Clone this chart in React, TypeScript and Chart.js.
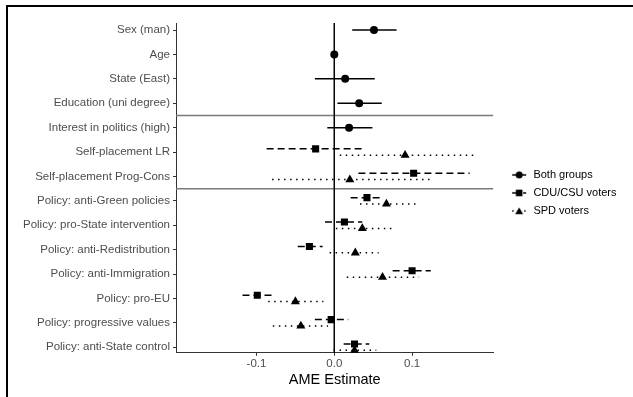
import React, { useEffect, useRef } from 'react';
import { Chart, registerables } from 'chart.js';

Chart.register(...registerables);

// ---------- data ----------
const categories = [
  'Sex (man)',
  'Age',
  'State (East)',
  'Education (uni degree)',
  'Interest in politics (high)',
  'Self-placement LR',
  'Self-placement Prog-Cons',
  'Policy: anti-Green policies',
  'Policy: pro-State intervention',
  'Policy: anti-Redistribution',
  'Policy: anti-Immigration',
  'Policy: pro-EU',
  'Policy: progressive values',
  'Policy: anti-State control',
];

const groupNames = ['Both groups', 'CDU/CSU voters', 'SPD voters'];

// Both groups (rows 0-4)
const bothRows = [0, 1, 2, 3, 4];
const bothEst = [0.051, 0.0, 0.014, 0.032, 0.019];
const bothLo = [0.023, -0.001, -0.025, 0.004, -0.009];
const bothHi = [0.08, 0.001, 0.052, 0.061, 0.049];

// Party groups (rows 5-13)
const partyRows = [5, 6, 7, 8, 9, 10, 11, 12, 13];
const cduEst = [-0.024, 0.102, 0.042, 0.013, -0.032, 0.1, -0.099, -0.004, 0.026];
const cduLo = [-0.087, 0.031, 0.021, -0.012, -0.047, 0.075, -0.118, -0.025, 0.012];
const cduHi = [0.039, 0.174, 0.063, 0.036, -0.015, 0.124, -0.079, 0.018, 0.045];
const spdEst = [0.091, 0.02, 0.067, 0.036, 0.027, 0.062, -0.05, -0.043, 0.026];
const spdLo = [0.007, -0.08, 0.033, 0.002, -0.006, 0.016, -0.085, -0.079, -0.001];
const spdHi = [0.179, 0.123, 0.105, 0.074, 0.057, 0.109, -0.014, -0.008, 0.054];

const xTicks = [-0.1, 0.0, 0.1];
const xRange = [-0.2035, 0.2045];
const yRange = [-0.29, 13.23];
const zeroLine = [0];
const separators = [3.5, 6.5];
const dodge = [0, -0.13, 0.13];

// ---------- styles ----------
const FONT = "'Liberation Sans', Arial, sans-serif";
const styles = [
  { point: 'circle', radius: 4, dash: [] as number[] },
  { point: 'rect', radius: 5, dash: [7, 4] },
  { point: 'triangle', radius: 5.2, dash: [1.5, 4.5] },
];

function makeLegendIcon(kind: string, dash: number[]): HTMLCanvasElement {
  const c = document.createElement('canvas');
  c.width = 40;
  c.height = 14;
  const ctx = c.getContext('2d')!;
  ctx.strokeStyle = '#000';
  ctx.fillStyle = '#000';
  ctx.lineWidth = 1.5;
  ctx.setLineDash(dash);
  ctx.beginPath();
  ctx.moveTo(18, 7);
  ctx.lineTo(32, 7);
  ctx.stroke();
  ctx.setLineDash([]);
  const cx = 25;
  const cy = 7;
  ctx.beginPath();
  if (kind === 'circle') {
    ctx.arc(cx, cy, 3.5, 0, Math.PI * 2);
  } else if (kind === 'rect') {
    ctx.rect(cx - 3.3, cy - 3.3, 6.6, 6.6);
  } else {
    const r = 4.6;
    ctx.moveTo(cx, cy - r + 1);
    ctx.lineTo(cx + r * 0.866, cy + r * 0.5 + 1);
    ctx.lineTo(cx - r * 0.866, cy + r * 0.5 + 1);
    ctx.closePath();
  }
  ctx.fill();
  return c;
}

export default function App() {
  const ref = useRef<HTMLCanvasElement | null>(null);

  useEffect(() => {
    if (!ref.current) return;

    const groups = [
      { rows: bothRows, est: bothEst, lo: bothLo, hi: bothHi },
      { rows: partyRows, est: cduEst, lo: cduLo, hi: cduHi },
      { rows: partyRows, est: spdEst, lo: spdLo, hi: spdHi },
    ];

    const pointSets: any[] = [];
    const barSets: any[] = [];
    groups.forEach((g, gi) => {
      const st = styles[gi];
      pointSets.push({
        label: groupNames[gi],
        data: g.rows.map((r, i) => ({ x: g.est[i], y: r + dodge[gi] })),
        pointStyle: st.point,
        pointRadius: st.radius,
        backgroundColor: '#000',
        borderColor: '#000',
        borderWidth: 0,
        showLine: false,
      });
      g.rows.forEach((r, i) => {
        barSets.push({
          label: groupNames[gi] + ' CI',
          data: [
            { x: g.lo[i], y: r + dodge[gi] },
            { x: g.hi[i], y: r + dodge[gi] },
          ],
          showLine: true,
          borderColor: '#000',
          borderWidth: 1.5,
          borderDash: st.dash,
          borderCapStyle: 'butt',
          pointRadius: 0,
        });
      });
    });

    const refSets: any[] = [];
    zeroLine.forEach((z) => {
      refSets.push({
        label: 'zero',
        data: [
          { x: z, y: yRange[0] },
          { x: z, y: yRange[1] },
        ],
        showLine: true,
        borderColor: '#000',
        borderWidth: 1,
        pointRadius: 0,
      });
    });
    separators.forEach((s) => {
      refSets.push({
        label: 'sep',
        data: [
          { x: xRange[0], y: s },
          { x: xRange[1], y: s },
        ],
        showLine: true,
        borderColor: '#7a7a7a',
        borderWidth: 1.5,
        pointRadius: 0,
      });
    });

    const icons = styles.map((s) => makeLegendIcon(s.point, s.dash));

    const chart = new Chart(ref.current, {
      type: 'scatter',
      data: { datasets: [...pointSets, ...barSets, ...refSets] },
      options: {
        animation: false,
        responsive: false,
        events: [],
        layout: { padding: { left: 0, top: 23, bottom: 8, right: 6.5 } },
        scales: {
          x: {
            type: 'linear',
            min: xRange[0],
            max: xRange[1],
            afterBuildTicks: (scale: any) => {
              scale.ticks = xTicks.map((v) => ({ value: v }));
            },
            grid: { display: true, drawOnChartArea: false, drawTicks: true, tickLength: 3, color: '#333' },
            border: { display: true, color: '#333', width: 1 },
            ticks: {
              color: '#4d4d4d',
              font: { size: 11.5, family: FONT },
              padding: 1,
              callback: (v: any) => Number(v).toFixed(1),
            },
            title: {
              display: true,
              text: 'AME Estimate',
              color: '#000',
              font: { size: 14.5, family: FONT },
              padding: { top: 0, bottom: 0 },
            },
          },
          y: {
            type: 'linear',
            reverse: true,
            min: yRange[0],
            max: yRange[1],
            afterBuildTicks: (scale: any) => {
              scale.ticks = categories.map((_, i) => ({ value: i }));
            },
            afterFit: (scale: any) => {
              scale.width = 176;
            },
            grid: { display: true, drawOnChartArea: false, drawTicks: true, tickLength: 3, color: '#333' },
            border: { display: true, color: '#333', width: 1 },
            ticks: {
              color: '#4d4d4d',
              font: { size: 11.5, family: FONT },
              padding: 3,
              autoSkip: false,
              callback: (v: any) => categories[Math.round(Number(v))] ?? '',
            },
          },
        },
        plugins: {
          tooltip: { enabled: false },
          legend: {
            display: true,
            position: 'right',
            fullSize: false,
            align: 'center',
            title: { display: true, text: ' ', font: { size: 5 }, padding: { top: 2, bottom: 2 } },
            labels: {
              usePointStyle: true,
              pointStyleWidth: 27.5,
              padding: 7,
              color: '#000',
              font: { size: 11, family: FONT },
              generateLabels: () =>
                groupNames.map((n, i) => ({
                  text: n,
                  pointStyle: icons[i] as any,
                  fillStyle: '#000',
                  strokeStyle: '#000',
                  fontColor: '#000',
                  lineWidth: 0,
                  hidden: false,
                  datasetIndex: i,
                })),
            },
          },
        },
      } as any,
    });

    return () => chart.destroy();
  }, []);

  return (
    <>
      <div style={{ position: 'absolute', left: 0, top: 0, width: 633, height: 397, background: '#fff' }}>
        <canvas ref={ref} width={633} height={397} style={{ display: 'block' }} />
      </div>
      <div
        style={{
          position: 'absolute',
          left: 6,
          top: 5,
          right: 0,
          bottom: 0,
          borderTop: '2px solid #000',
          borderLeft: '2px solid #000',
          pointerEvents: 'none',
        }}
      />
    </>
  );
}
